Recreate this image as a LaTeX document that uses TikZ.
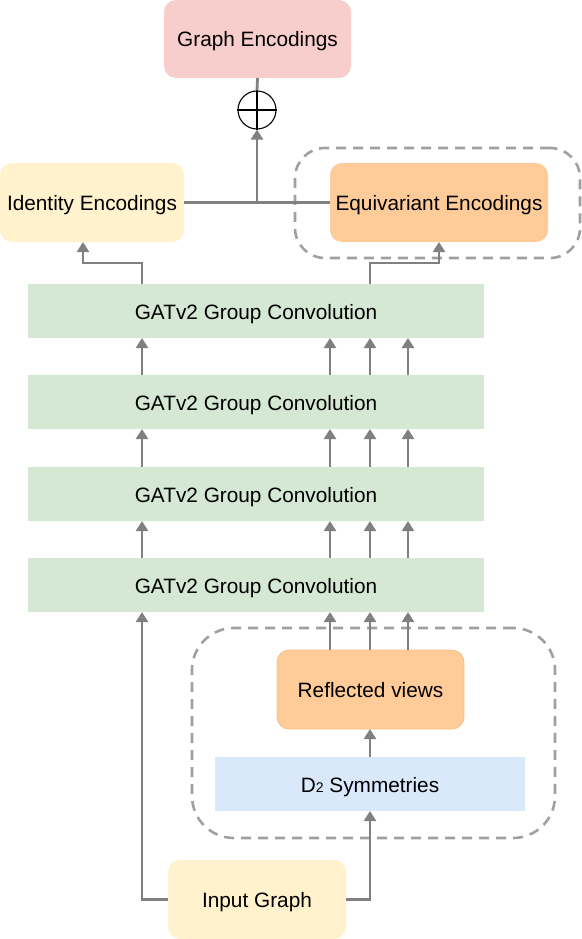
\documentclass[tikz,border=0pt]{standalone}
\usepackage{fontspec}
\setmainfont{Liberation Sans}
\usetikzlibrary{arrows.meta}
\definecolor{lgray}{HTML}{808080}
\definecolor{dgray}{HTML}{A0A0A0}
\definecolor{pinkf}{HTML}{F8CECC}
\definecolor{yelf}{HTML}{FFF2CC}
\definecolor{oraf}{HTML}{FFCC99}
\definecolor{orad}{HTML}{F7C08A}
\definecolor{grnf}{HTML}{D5E8D4}
\definecolor{bluf}{HTML}{DAE8FC}
\tikzset{
  box/.style={inner sep=0pt, outer sep=0pt, align=center, text height=16pt, text depth=0pt, font=\fontsize{20.8}{25}\selectfont},
  rbox/.style={box, rounded corners=12pt},
  conv/.style={box, fill=grnf, minimum width=456pt, minimum height=54pt},
  line/.style={draw=lgray, line width=2.8pt},
  arr/.style={line, -{Triangle[length=10pt,width=12pt]}},
  dbox/.style={draw=dgray, line width=2.6pt, dash pattern=on 10pt off 7pt, inner sep=0pt},
}
\begin{document}
\begin{tikzpicture}[x=1pt,y=-1pt]
\useasboundingbox (0,0) rectangle (581,939);
% dashed groups
\node[dbox, rounded corners=30pt, minimum width=285pt, minimum height=110pt] (g1) at (437.5,203) {};
\node[dbox, rounded corners=42pt, minimum width=363pt, minimum height=210pt] (g2) at (373.5,733) {};
% nodes
\node[rbox, fill=pinkf, minimum width=187pt, minimum height=78pt] (ge) at (257.5,39) {Graph Encodings};
\node[draw=black, fill=white, circle, line width=1.1pt, minimum size=38pt, inner sep=0pt] (op) at (257,110) {};
\node[rbox, fill=yelf, minimum width=184pt, minimum height=79pt] (id) at (92,202.5) {Identity Encodings};
\node[rbox, fill=oraf, minimum width=218pt, minimum height=79pt] (eq) at (439,202.5) {Equivariant Encodings};
\node[conv] (c1) at (256,311) {GATv2 Group Convolution};
\node[conv] (c2) at (256,402) {GATv2 Group Convolution};
\node[conv] (c3) at (256,494) {GATv2 Group Convolution};
\node[conv] (c4) at (256,585) {GATv2 Group Convolution};
\node[rbox, fill=oraf, draw=orad, line width=0.8pt, minimum width=187pt, minimum height=79pt] (rv) at (370.5,689.5) {Reflected views};
\node[box, fill=bluf, minimum width=310pt, minimum height=54pt] (d2) at (370,784) {D{\fontsize{14}{14}\selectfont\raisebox{-0.5pt}{2}} Symmetries};
\node[rbox, fill=yelf, minimum width=178pt, minimum height=79pt] (in) at (257,899.5) {Input Graph};
% columns
\coordinate (cL) at (142,0);
\coordinate (cA) at (330,0);
\coordinate (cB) at (370,0);
\coordinate (cC) at (408,0);
\coordinate (j) at (257,202.5);
% oplus cross
\draw[black, line width=1.1pt] (op.north) -- (op.south) (op.west) -- (op.east);
% top connections
\draw[line] (op.north) -- (ge.south);
\draw[line] (id.east) -- (eq.west);
\draw[arr] (j) -- (op.south);
\draw[arr] (c1.north -| cL) -- (142,263) -- (83,263) -- (id.south -| 83,0);
\draw[arr] (c1.north -| cB) -- (370,263) -- (439,263) -- (eq.south);
% between convs
\foreach \c in {cL,cA,cB,cC}{
  \draw[arr] (c2.north -| \c) -- (c1.south -| \c);
  \draw[arr] (c3.north -| \c) -- (c2.south -| \c);
  \draw[arr] (c4.north -| \c) -- (c3.south -| \c);
}
\foreach \c in {cA,cB,cC}{
  \draw[arr] (rv.north -| \c) -- (c4.south -| \c);
}
\draw[arr] (d2.north -| cB) -- (rv.south -| cB);
% input
\draw[arr] (in.west) -- (in.west -| cL) -- (c4.south -| cL);
\draw[arr] (in.east) -- (in.east -| cB) -- (d2.south -| cB);
\end{tikzpicture}
\end{document}
